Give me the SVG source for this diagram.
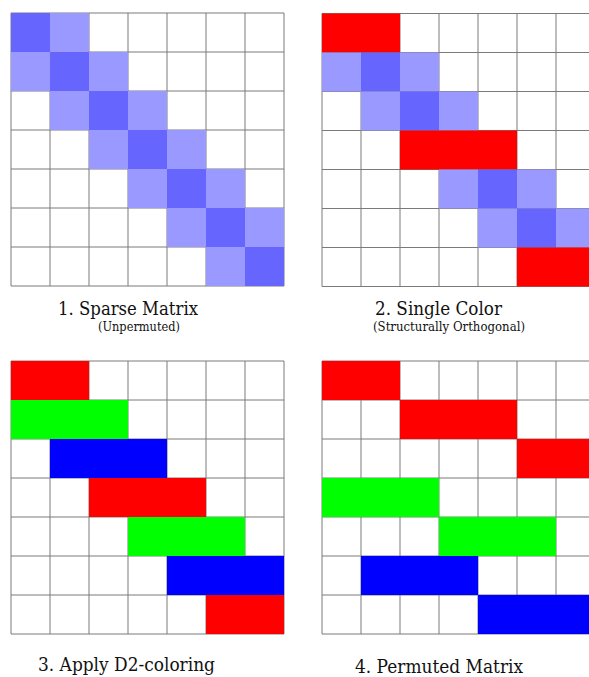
<svg xmlns="http://www.w3.org/2000/svg" width="589" height="677" viewBox="0 0 589 677">
<style>
.bg{fill:#ffffff}
.g line{stroke:#7a7a7a;stroke-width:1}
.d{fill:#6666ff}
.l{fill:#9999ff}
.r{fill:#ff0000}
.gr{fill:#00ff00}
.b{fill:#0000ff}
.cap{font-size:19px;fill:#111}
.sub{font-size:12.5px;fill:#111}
</style>
<defs>
<g id="grid" class="g">
<line x1="0" y1="0" x2="273" y2="0"/><line x1="0" y1="39" x2="273" y2="39"/><line x1="0" y1="78" x2="273" y2="78"/><line x1="0" y1="117" x2="273" y2="117"/><line x1="0" y1="156" x2="273" y2="156"/><line x1="0" y1="195" x2="273" y2="195"/><line x1="0" y1="234" x2="273" y2="234"/><line x1="0" y1="273" x2="273" y2="273"/>
<line x1="0" y1="0" x2="0" y2="273"/><line x1="39" y1="0" x2="39" y2="273"/><line x1="78" y1="0" x2="78" y2="273"/><line x1="117" y1="0" x2="117" y2="273"/><line x1="156" y1="0" x2="156" y2="273"/><line x1="195" y1="0" x2="195" y2="273"/><line x1="234" y1="0" x2="234" y2="273"/><line x1="273" y1="0" x2="273" y2="273"/>
</g>
</defs>
<rect class="bg" x="0" y="0" width="589" height="677"/>

<g id="matrix1" transform="translate(11,13)">
<use href="#grid"/>
<rect class="d" x="0" y="0" width="39" height="39"/><rect class="l" x="39" y="0" width="39" height="39"/>
<rect class="l" x="0" y="39" width="39" height="39"/><rect class="d" x="39" y="39" width="39" height="39"/><rect class="l" x="78" y="39" width="39" height="39"/>
<rect class="l" x="39" y="78" width="39" height="39"/><rect class="d" x="78" y="78" width="39" height="39"/><rect class="l" x="117" y="78" width="39" height="39"/>
<rect class="l" x="78" y="117" width="39" height="39"/><rect class="d" x="117" y="117" width="39" height="39"/><rect class="l" x="156" y="117" width="39" height="39"/>
<rect class="l" x="117" y="156" width="39" height="39"/><rect class="d" x="156" y="156" width="39" height="39"/><rect class="l" x="195" y="156" width="39" height="39"/>
<rect class="l" x="156" y="195" width="39" height="39"/><rect class="d" x="195" y="195" width="39" height="39"/><rect class="l" x="234" y="195" width="39" height="39"/>
<rect class="l" x="195" y="234" width="39" height="39"/><rect class="d" x="234" y="234" width="39" height="39"/>
</g>

<g id="matrix2" transform="translate(322,13.5)">
<use href="#grid"/>
<rect class="r" x="0" y="0" width="78" height="39"/>
<rect class="l" x="0" y="39" width="39" height="39"/><rect class="d" x="39" y="39" width="39" height="39"/><rect class="l" x="78" y="39" width="39" height="39"/>
<rect class="l" x="39" y="78" width="39" height="39"/><rect class="d" x="78" y="78" width="39" height="39"/><rect class="l" x="117" y="78" width="39" height="39"/>
<rect class="r" x="78" y="117" width="117" height="39"/>
<rect class="l" x="117" y="156" width="39" height="39"/><rect class="d" x="156" y="156" width="39" height="39"/><rect class="l" x="195" y="156" width="39" height="39"/>
<rect class="l" x="156" y="195" width="39" height="39"/><rect class="d" x="195" y="195" width="39" height="39"/><rect class="l" x="234" y="195" width="39" height="39"/>
<rect class="r" x="195" y="234" width="78" height="39"/>
</g>

<g id="matrix3" transform="translate(11,361)">
<use href="#grid"/>
<rect class="r" x="0" y="0" width="78" height="39"/>
<rect class="gr" x="0" y="39" width="117" height="39"/>
<rect class="b" x="39" y="78" width="117" height="39"/>
<rect class="r" x="78" y="117" width="117" height="39"/>
<rect class="gr" x="117" y="156" width="117" height="39"/>
<rect class="b" x="156" y="195" width="117" height="39"/>
<rect class="r" x="195" y="234" width="78" height="39"/>
</g>

<g id="matrix4" transform="translate(322,361)">
<use href="#grid"/>
<rect class="r" x="0" y="0" width="78" height="39"/>
<rect class="r" x="78" y="39" width="117" height="39"/>
<rect class="r" x="195" y="78" width="78" height="39"/>
<rect class="gr" x="0" y="117" width="117" height="39"/>
<rect class="gr" x="117" y="156" width="117" height="39"/>
<rect class="b" x="39" y="195" width="117" height="39"/>
<rect class="b" x="156" y="234" width="117" height="39"/>
</g>

<g font-family="'DejaVu Serif', 'Liberation Serif', serif">
<g id="caption1">
<text class="cap" x="58" y="315" textLength="140" lengthAdjust="spacingAndGlyphs">1. Sparse Matrix</text>
<text class="sub" x="98" y="331" textLength="82" lengthAdjust="spacingAndGlyphs">(Unpermuted)</text>
</g>
<g id="caption2">
<text class="cap" x="375" y="315" textLength="127" lengthAdjust="spacingAndGlyphs">2. Single Color</text>
<text class="sub" x="373" y="331" textLength="152" lengthAdjust="spacingAndGlyphs">(Structurally Orthogonal)</text>
</g>
<g id="caption3">
<text class="cap" x="38" y="671" textLength="177" lengthAdjust="spacingAndGlyphs">3. Apply D2-coloring</text>
</g>
<g id="caption4">
<text class="cap" x="355" y="673" textLength="168" lengthAdjust="spacingAndGlyphs">4. Permuted Matrix</text>
</g>
</g>
</svg>
